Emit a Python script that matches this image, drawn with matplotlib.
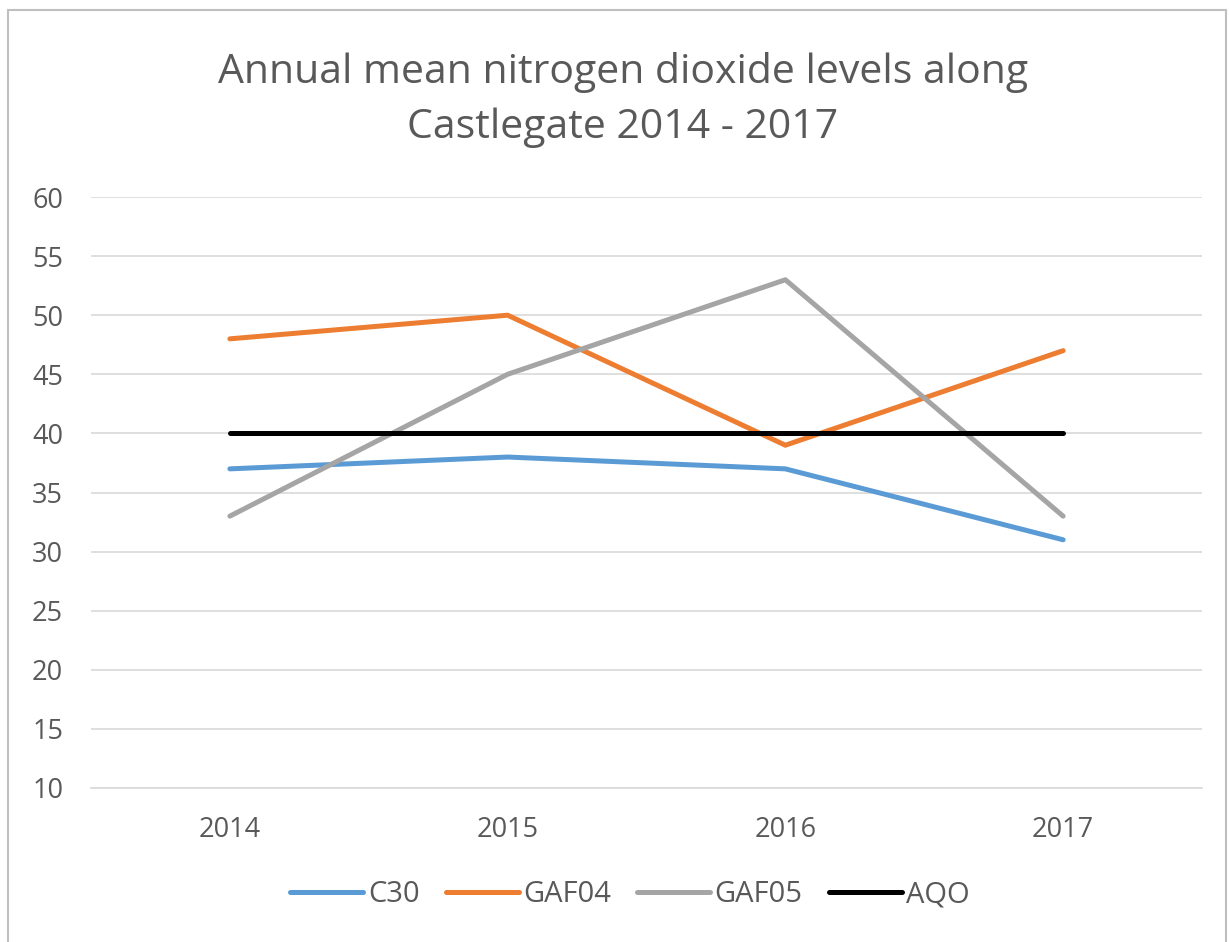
import matplotlib
matplotlib.use("Agg")
import matplotlib.pyplot as plt
from matplotlib.patches import Rectangle

years = ["2014", "2015", "2016", "2017"]
c30 = [37, 38, 37, 31]
gaf04 = [48, 50, 39, 47]
gaf05 = [33, 45, 53, 33]
aqo = [40, 40, 40, 40]
yticks = [10, 15, 20, 25, 30, 35, 40, 45, 50, 55, 60]

plt.rcParams['font.family'] = ['Open Sans', 'DejaVu Sans']

fig = plt.figure(figsize=(12.29, 9.42), dpi=100)
fig.patches.append(Rectangle((8/1229, -0.01), (1226-8)/1229, 1 - 10/942 + 0.01,
                             transform=fig.transFigure, fill=False,
                             edgecolor='#BFBFBF', linewidth=1.5))
ax = fig.add_axes([91/1229, 1 - 788/942, (1202-91)/1229, (788-197)/942])

x = list(range(len(years)))
lw = 3.6
ax.plot(x, c30, color='#5B9BD5', lw=lw, label='C30', solid_capstyle='round')
ax.plot(x, gaf04, color='#ED7D31', lw=lw, label='GAF04', solid_capstyle='round')
ax.plot(x, gaf05, color='#A5A5A5', lw=lw, label='GAF05', solid_capstyle='round')
ax.plot(x, aqo, color='#000000', lw=lw, label='AQO', solid_capstyle='round')

ax.set_xlim(-0.5, len(years) - 0.5)
ax.set_ylim(10, 60)
ax.set_yticks(yticks)
ax.set_xticks(x)
ax.set_xticklabels(years)
ax.grid(axis='y', color='#D9D9D9', lw=1.2)
ax.set_axisbelow(True)
for s in ['top', 'right', 'left']:
    ax.spines[s].set_visible(False)
ax.spines['bottom'].set_color('#D9D9D9')
ax.spines['bottom'].set_linewidth(1.2)
ax.tick_params(axis='both', length=0, labelsize=19.5, colors='#595959')
ax.tick_params(axis='y', pad=20)
ax.tick_params(axis='x', pad=20)

fig.text(623/1229, 1 - 100/942, "Annual mean nitrogen dioxide levels along\nCastlegate 2014 - 2017",
         ha='center', va='center', fontsize=29.5, color='#595959', linespacing=1.5)

leg = fig.legend(loc='center', bbox_to_anchor=(630/1229, 1 - 895/942), ncol=4, frameon=False,
                 fontsize=21, handlelength=2.5, handletextpad=0.15, columnspacing=0.9)
for t in leg.get_texts():
    t.set_color('#595959')

fig.savefig("out.png", dpi=100)
